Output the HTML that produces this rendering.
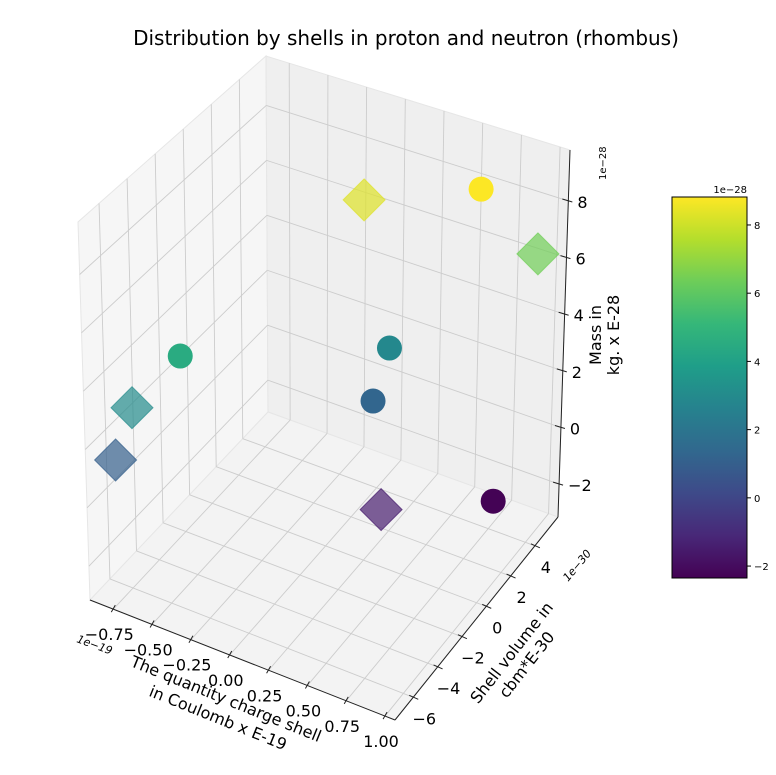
<!DOCTYPE html>
<html><head><meta charset="utf-8"><style>
html,body{margin:0;padding:0;background:#fff;}
svg{display:block;font-family:"DejaVu Sans","Liberation Sans",sans-serif;}
</style></head><body>
<svg id="chart" width="776" height="775" viewBox="0 0 776 775" xmlns="http://www.w3.org/2000/svg">
<g id="panes"></g>
<g id="grid"></g>
<g id="axes"></g>
<g id="marks"></g>
<g id="cbar"></g>
<text x="406" y="45" font-size="20" text-anchor="middle" fill="#000">Distribution by shells in proton and neutron (rhombus)</text>
<text x="747" y="193" font-size="10" text-anchor="end">1e−28</text>
<text transform="translate(606,180) rotate(-90)" font-size="10">1e−28</text>
<text transform="translate(601,335) rotate(-90)" font-size="16" text-anchor="middle">Mass in</text>
<text transform="translate(619,335) rotate(-90)" font-size="16" text-anchor="middle">kg. x E-28</text>
<text transform="translate(76,642) rotate(20)" font-size="11" font-style="italic">1e−19</text>
<text transform="translate(224,704) rotate(22)" font-size="16" text-anchor="middle">The quantity charge shell</text>
<text transform="translate(216,723) rotate(22)" font-size="16" text-anchor="middle">in Coulomb x E-19</text>
<text transform="translate(568,582) rotate(-50)" font-size="11" font-style="italic">1e−30</text>
<text transform="translate(516,656) rotate(-52)" font-size="16" text-anchor="middle">Shell volume in</text>
<text transform="translate(531,668) rotate(-52)" font-size="16" text-anchor="middle">cbm*E-30</text>
</svg>
<script>
// data (x in 1e-19 C, y in 1e-30 m3, z in 1e-28 kg)
const protonX = [0.68, 0.20, 0.155, -0.55, 0.76];
const protonY = [3.72, 2.55, 1.84, -4.42, 4.24];
const protonZ = [8.8, 2.9, 1.3, 4.5, -2.3];
const neutronX = [0.096, 0.954, -0.74, -0.85, 0.325];
const neutronY = [1.77, 4.96, -5.85, -5.90, 0.49];
const neutronZ = [8.3, 6.4, 3.0, 1.0, -1.5];
const xTicks = [-0.75, -0.5, -0.25, 0, 0.25, 0.5, 0.75, 1.0];
const xTickLabels = ["\u22120.75","\u22120.50","\u22120.25","0.00","0.25","0.50","0.75","1.00"];
const yTicks = [-6, -4, -2, 0, 2, 4];
const zTicks = [-2, 0, 2, 4, 6, 8];
const cbTicks = [-2, 0, 2, 4, 6, 8];

const NS = "http://www.w3.org/2000/svg";
const xr = [-0.9, 1.064], yr = [-7.5, 5.9], zr = [-3.16, 9.8];
const cmin = -2.35, cmax = 8.82;
function bil(a, b, c, d, x, y) { return a*(1-x)*(1-y) + b*x*(1-y) + c*x*y + d*(1-x)*y; }
function proj(x, y, z) {
  const xn = (x - xr[0]) / (xr[1] - xr[0]);
  const yn = (y - yr[0]) / (yr[1] - yr[0]);
  const zn = (z - zr[0]) / (zr[1] - zr[0]);
  const fx = bil(90, 395, 558, 268, xn, yn), fy = bil(600, 720, 517, 412, xn, yn);
  const ezx = bil(-12, 0, 12, -2, xn, yn), ezy = -bil(378, 388, 367, 356, xn, yn);
  return [fx + zn * ezx, fy + zn * ezy];
}
const V = [[68,1,84],[72,40,120],[62,74,137],[49,104,142],[38,130,142],[31,158,137],[53,183,121],[109,205,89],[180,222,44],[253,231,37]];
function viridis(v) {
  let t = Math.max(0, Math.min(1, (v - cmin) / (cmax - cmin))) * 9;
  const i = Math.min(8, Math.floor(t)), f = t - i;
  const c = V[i].map((a, k) => Math.round(a + (V[i+1][k] - a) * f));
  return `rgb(${c[0]},${c[1]},${c[2]})`;
}
function el(tag, attrs, parent, text) {
  const e = document.createElementNS(NS, tag);
  for (const k in attrs) e.setAttribute(k, attrs[k]);
  if (text !== undefined) e.textContent = text;
  parent.appendChild(e);
  return e;
}
function poly(pts) { return pts.map(p => p[0].toFixed(1) + "," + p[1].toFixed(1)).join(" "); }
const panes = document.getElementById("panes");
const grid = document.getElementById("grid");
const axes = document.getElementById("axes");
const marks = document.getElementById("marks");
const cbar = document.getElementById("cbar");
const [x0, x1] = xr, [y0, y1] = yr, [z0, z1] = zr;

let p = el("polygon", {points: poly([proj(x0,y0,z0), proj(x0,y1,z0), proj(x0,y1,z1), proj(x0,y0,z1)]), fill: "#f6f6f6", stroke: "#e6e6e6"}, panes);


p = el("polygon", {points: poly([proj(x0,y1,z0), proj(x1,y1,z0), proj(x1,y1,z1), proj(x0,y1,z1)]), fill: "#efefef", stroke: "#e6e6e6"}, panes);


p = el("polygon", {points: poly([proj(x0,y0,z0), proj(x1,y0,z0), proj(x1,y1,z0), proj(x0,y1,z0)]), fill: "#f3f3f3", stroke: "#e6e6e6"}, panes);



function gl(a, b) {
  const l = el("line", {x1: a[0], y1: a[1], x2: b[0], y2: b[1], stroke: "#cccccc", "stroke-width": 0.9}, grid);
  
  
}
xTicks.forEach(x => { gl(proj(x,y0,z0), proj(x,y1,z0)); gl(proj(x,y1,z0), proj(x,y1,z1)); });
yTicks.forEach(y => { gl(proj(x0,y,z0), proj(x1,y,z0)); gl(proj(x0,y,z0), proj(x0,y,z1)); });
zTicks.forEach(z => { gl(proj(x0,y0,z), proj(x0,y1,z)); gl(proj(x0,y1,z), proj(x1,y1,z)); });

function axLine(a, b, name) {
  const l = el("line", {x1: a[0], y1: a[1], x2: b[0], y2: b[1], stroke: "#222", "stroke-width": 1}, axes);
  
  
}
axLine(proj(x0,y0,z0), proj(x1,y0,z0), 'x-axis-line');
axLine(proj(x1,y0,z0), proj(x1,y1,z0), 'y-axis-line');
axLine(proj(x1,y1,z0), proj(x1,y1,z1), 'z-axis-line');

xTicks.forEach((x, i) => {
  const a = proj(x,y0,z0);
  const t = el("line", {x1: a[0]-2, y1: a[1]+3, x2: a[0]+2, y2: a[1]-4, stroke: "#222"}, axes);
  
  
  const lb = el("text", {x: a[0]-4, y: a[1]+31, "font-size": 16, "text-anchor": "middle"}, axes, xTickLabels[i]);
  
  
});
yTicks.forEach(y => {
  const a = proj(x1,y,z0);
  const t = el("line", {x1: a[0]+5, y1: a[1]+2, x2: a[0]-4, y2: a[1]-2, stroke: "#222"}, axes);
  
  
  const lb = el("text", {x: a[0]+11, y: a[1]+27, "font-size": 16, "text-anchor": "middle"}, axes, y < 0 ? "\u2212" + (-y) : String(y));
  
  
});
zTicks.forEach(z => {
  const a = proj(x1,y1,z);
  const t = el("line", {x1: a[0]-6, y1: a[1]-2, x2: a[0]+4, y2: a[1]+1, stroke: "#222"}, axes);
  
  
  const lb = el("text", {x: a[0]+9, y: a[1]+7, "font-size": 16}, axes, z < 0 ? "\u2212" + (-z) : String(z));
  
  
});

function marker(x, y, z, kind) {
  const [cx, cy] = proj(x, y, z);
  let m;
  if (kind === "circle") {
    m = el("circle", {cx: cx, cy: cy, r: 12.5, fill: viridis(z)}, marks);
    
  } else {
    const r = 21;
    m = el("polygon", {points: poly([[cx,cy-r],[cx+r,cy],[cx,cy+r],[cx-r,cy]]), fill: viridis(z), "fill-opacity": 0.7, stroke: viridis(z), "stroke-opacity": 0.7}, marks);
    
  }
  
}
protonX.forEach((x, i) => marker(x, protonY[i], protonZ[i], "circle"));
neutronX.forEach((x, i) => marker(x, neutronY[i], neutronZ[i], "diamond"));

// colorbar
const defs = el("defs", {}, cbar);
const grad = el("linearGradient", {id: "vir", x1: 0, y1: 1, x2: 0, y2: 0}, defs);
V.forEach((c, i) => el("stop", {offset: (i / 9), "stop-color": `rgb(${c[0]},${c[1]},${c[2]})`}, grad));
const cbX = 672, cbTop = 197, cbBot = 578, cbW = 75;
const cr = el("rect", {x: cbX, y: cbTop, width: cbW, height: cbBot - cbTop, fill: "url(#vir)", stroke: "#000", "stroke-width": 1}, cbar);


function cy(v) { return cbBot - (v - cmin) / (cmax - cmin) * (cbBot - cbTop); }
cbTicks.forEach(v => {
  const yy = cy(v);
  const t = el("line", {x1: cbX + cbW, y1: yy, x2: cbX + cbW + 4, y2: yy, stroke: "#000"}, cbar);
  
  
  const lb = el("text", {x: cbX + cbW + 7, y: yy + 4, "font-size": 10}, cbar, v < 0 ? "\u2212" + (-v) : String(v));
  
  
});
</script>
</body></html>
